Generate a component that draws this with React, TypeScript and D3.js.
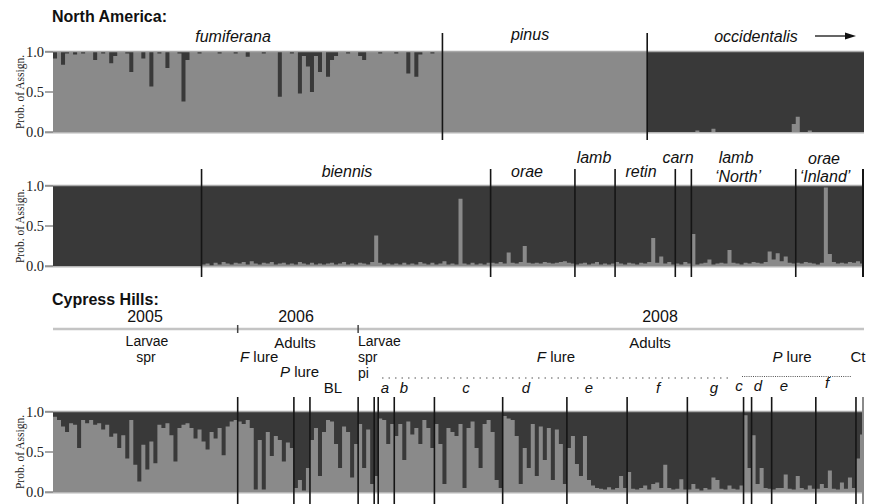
import React from "react";
import * as d3 from "d3";

// Proportion of each individual assigned to the light cluster (dark = 1 - value)

// North America, row 1
const naFumiferana = [
  0.92, 1, 0.84, 0.98, 1, 0.97, 1, 0.98, 1, 1,
  0.9, 1, 0.98, 1, 0.86, 0.95, 1, 1, 0.98, 0.75,
  1, 1, 0.92, 1, 0.57, 1, 0.98, 1, 0.8, 1,
  1, 0.98, 0.38, 0.9, 1, 1, 0.98, 1, 1, 1,
  1, 0.98, 1, 1, 1, 0.98, 1, 1, 0.94, 1,
  1, 1, 0.98, 1, 1, 1, 0.44, 1, 1, 0.98,
  1, 0.48, 0.95, 0.82, 0.5, 0.95, 0.75, 1, 0.69, 0.9,
  0.95, 1, 1, 0.98, 1, 1, 0.95, 0.9, 1, 1,
  1, 0.98, 1, 1, 1, 0.98, 1, 1, 0.73, 1,
  0.69, 0.97, 1, 1, 0.98, 1, 1,
];
const naPinus = [
  1, 1, 1, 1, 1, 1, 1, 1, 1, 1,
  1, 1, 1, 1, 1, 1, 1, 1, 1, 1,
  1, 1, 1, 1, 1, 1, 1, 1, 1, 1,
  1, 1, 1, 1, 1, 1, 1, 1, 1, 1,
  1, 1, 1, 1, 1, 1, 1, 1, 1, 1,
  1,
];
const naOccidentalis = [
  0, 0, 0, 0, 0, 0, 0, 0, 0, 0,
  0, 0, 0.02, 0, 0, 0, 0.04, 0, 0, 0,
  0, 0, 0, 0, 0, 0, 0, 0, 0, 0,
  0, 0, 0, 0, 0, 0, 0.1, 0.19, 0, 0,
  0.02, 0, 0, 0, 0, 0, 0, 0, 0, 0,
  0, 0, 0, 0,
];

// North America, row 2
const naOccidentalisCont = [
  0, 0, 0, 0, 0, 0, 0, 0, 0, 0,
  0, 0, 0, 0, 0, 0, 0, 0, 0, 0,
  0, 0, 0, 0, 0, 0, 0, 0, 0, 0,
  0, 0, 0, 0, 0, 0, 0,
];
const naBiennis = [
  0.02, 0.03, 0.01, 0.04, 0.02, 0.05, 0.03, 0.02, 0.04, 0.03,
  0.05, 0.02, 0.06, 0.03, 0.02, 0.04, 0.03, 0.05, 0.02, 0.03,
  0.04, 0.02, 0.03, 0.02, 0.05, 0.03, 0.02, 0.04, 0.02, 0.03,
  0.02, 0.03, 0.04, 0.02, 0.03, 0.05, 0.02, 0.03, 0.02, 0.04,
  0.03, 0.02, 0.05, 0.38, 0.04, 0.02, 0.03, 0.02, 0.03, 0.02,
  0.04, 0.02, 0.03, 0.02, 0.05, 0.03, 0.02, 0.04, 0.02, 0.03,
  0.06, 0.02, 0.03, 0.02, 0.84, 0.03, 0.02, 0.04, 0.02, 0.03,
  0.02, 0.04,
];
const naOrae = [0.04, 0.03, 0.05, 0.03, 0.17, 0.04, 0.03, 0.05, 0.25, 0.04, 0.03, 0.04, 0.03, 0.05, 0.04, 0.03, 0.04, 0.05, 0.06, 0.04, 0.03];
const naLamb = [0.02, 0.03, 0.04, 0.02, 0.03, 0.05, 0.02, 0.03, 0.02, 0.03];
const naRetin = [0.05, 0.03, 0.02, 0.04, 0.03, 0.02, 0.04, 0.03, 0.05, 0.35, 0.04, 0.12, 0.03, 0.05, 0.02];
const naCarn = [0.03, 0.02, 0.05, 0.03];
const naLambNorth = [0.4, 0.02, 0.03, 0.04, 0.08, 0.02, 0.03, 0.04, 0.03, 0.2, 0.04, 0.03, 0.02, 0.04, 0.03, 0.05, 0.04, 0.03, 0.05, 0.18, 0.08, 0.16, 0.06, 0.12, 0.04, 0.03];
const naOraeInland = [0.04, 0.03, 0.05, 0.04, 0.03, 0.02, 0.04, 0.98, 0.15, 0.05, 0.03, 0.04, 0.03, 0.05, 0.04, 0.06, 0.03];

// Cypress Hills
const ch05Larvae = [
  0.94, 0.9, 0.82, 0.75, 0.86, 0.84, 0.55, 0.9, 0.86, 0.9,
  0.84, 0.86, 0.78, 0.84, 0.69, 0.73, 0.55, 0.71, 0.42, 0.9,
  0.34, 0.13, 0.59, 0.28, 0.63, 0.36, 0.84, 0.8, 0.86, 0.71,
  0.38, 0.8, 0.84, 0.86, 0.8, 0.67, 0.78, 0.63, 0.53, 0.75,
  0.67, 0.8, 0.46, 0.82, 0.88, 0.9,
];
const ch06FLure = [0.88, 0.85, 0.9, 0.8, 0.03, 0.65, 0.03, 0.75, 0.45, 0.7, 0.65, 0.38, 0.62, 0.55];
const ch06PLure = [0.05, 0.15, 0.02, 0.3];
const ch06BL = [0.65, 0.8, 0.2, 0.75, 0.9, 0.88, 0.6, 0.3, 0.82, 0.75, 0.18, 0.6];
const ch08LarvaeSpr = [0.85, 0.3, 0.78, 0.1];
const ch08LarvaePi = [0.2];
const ch08Fa = [0.92, 0.9, 0.6, 0.85];
const ch08Fb = [0.7, 0.85, 0.4, 0.88, 0.72, 0.8, 0.6, 0.9, 0.8, 0.55];
const ch08Fc = [0.85, 0.6, 0.1, 0.8, 0.75, 0.7, 0.85, 0.05, 0.8, 0.88, 0.55, 0.3, 0.85, 0.9, 0.75, 0.15, 0.05];
const ch08Fd = [0.95, 0.92, 0.9, 0.7, 0.1, 0.55, 0.3, 0.85, 0.2, 0.82, 0.4, 0.8, 0.15, 0.78, 0.6, 0.1];
const ch08Fe = [0.55, 0.7, 0.35, 0.2, 0.7, 0.15, 0.08, 0.05, 0.04, 0.03, 0.06, 0.03, 0.05, 0.2, 0.05];
const ch08Ff = [0.25, 0.04, 0.03, 0.05, 0.08, 0.03, 0.1, 0.12, 0.05, 0.34, 0.05, 0.03, 0.04, 0.16, 0.03];
const ch08Fg = [0.03, 0.1, 0.04, 0.02, 0.05, 0.03, 0.18, 0.15, 0.04, 0.03, 0.08, 0.04, 0.03, 0.08];
const ch08Pc = [0.96, 0.3];
const ch08Pd = [0.71, 0.1, 0.3, 0.05, 0.04];
const ch08Pe = [0.03, 0.05, 0.05, 0.22, 0.04, 0.03, 0.2, 0.05, 0.03, 0.08, 0.04];
const ch08Pf = [0.04, 0.1, 0.05, 0.27, 0.04, 0.03, 0.12, 0.04, 0.18, 0.05];
const ch08Ct = [0.42, 0.72];

const tickValues = [0, 0.5, 1];
const tickLabels = ["0.0", "0.5", "1.0"];

// layout
const W = 869;
const H = 504;
const X0 = 53;
const X1 = 864;
const LIGHT = "#8a8a8a";
const DARK = "#393939";
const SANS = "'Liberation Sans', Arial, Helvetica, sans-serif";
const SERIF = "'Liberation Serif', 'Times New Roman', serif";

type Lbl = { t: string; x: number; y: number };

const naTopLabels: Lbl[] = [
  { t: "fumiferana", x: 233, y: 41.5 },
  { t: "pinus", x: 530, y: 39.5 },
  { t: "occidentalis", x: 756, y: 41.5 },
];
const naBottomLabels: Lbl[] = [
  { t: "biennis", x: 347, y: 176.5 },
  { t: "orae", x: 527, y: 176.5 },
  { t: "lamb", x: 594, y: 163 },
  { t: "retin", x: 641, y: 176.5 },
  { t: "carn", x: 678, y: 163 },
  { t: "lamb", x: 736, y: 163 },
  { t: "\u2018North\u2019", x: 738, y: 181.5 },
  { t: "orae", x: 824, y: 163.5 },
  { t: "\u2018Inland\u2019", x: 825, y: 181.5 },
];
const chLetters: Lbl[] = [
  { t: "a", x: 385, y: 392.5 },
  { t: "b", x: 404, y: 392.5 },
  { t: "c", x: 466, y: 392.5 },
  { t: "d", x: 526, y: 392.5 },
  { t: "e", x: 589, y: 392.5 },
  { t: "f", x: 658, y: 392.5 },
  { t: "g", x: 714, y: 392.5 },
  { t: "c", x: 739, y: 390.5 },
  { t: "d", x: 758, y: 390.5 },
  { t: "e", x: 784, y: 390.5 },
  { t: "f", x: 827, y: 388 },
];

type PanelProps = {
  groups: number[][];
  top: number;
  bottom: number;
  lineTop: number;
  lineBottom: number;
  edge?: string;
};

function StructurePanel({ groups, top, bottom, lineTop, lineBottom, edge }: PanelProps) {
  const values = groups.flat();
  const n = values.length;
  const x = d3.scaleLinear().domain([0, n]).range([X0, X1]);
  const y = d3.scaleLinear().domain([0, 1]).range([bottom, top]);
  const pts: [number, number][] = values.map((q, i) => [i, q] as [number, number]);
  pts.push([n, values[n - 1]]);
  const area = d3
    .area<[number, number]>()
    .x((d) => x(d[0]))
    .y0(bottom)
    .y1((d) => y(d[1]))
    .curve(d3.curveStepAfter);
  const cuts = (Array.from(d3.cumsum(groups.map((g) => g.length))) as number[]).slice(0, -1);
  const mid = (top + bottom) / 2;

  return (
    <g>
      <rect x={X0} y={top} width={X1 - X0} height={bottom - top} fill={DARK} />
      <path d={area(pts) || ""} fill={LIGHT} />
      <line x1={45} x2={X1} y1={top - 0.5} y2={top - 0.5} stroke="#a8a8a8" strokeWidth={1.5} />
      <line x1={45} x2={X1} y1={bottom + 0.7} y2={bottom + 0.7} stroke="#b5b5b5" strokeWidth={1.5} />
      {tickValues.map((t, i) => (
        <g key={t}>
          <line x1={45} x2={X0} y1={y(t)} y2={y(t)} stroke="#8a8a8a" strokeWidth={1.5} />
          <text x={44} y={y(t)} dy="0.35em" textAnchor="end" fontFamily={SERIF} fontSize={14.5} fill="#222">
            {tickLabels[i]}
          </text>
        </g>
      ))}
      <text
        transform={`translate(24,${mid}) rotate(-90)`}
        textAnchor="middle"
        fontFamily={SERIF}
        fontSize={11.5}
        fill="#222"
      >
        Prob. of Assign.
      </text>
      {cuts.map((c, i) => (
        <line key={i} x1={x(c)} x2={x(c)} y1={lineTop} y2={lineBottom} stroke="#151515" strokeWidth={1.6} />
      ))}
      {edge && <line x1={X1 - 1} x2={X1 - 1} y1={lineTop} y2={lineBottom} stroke={edge} strokeWidth={2} />}
    </g>
  );
}

export default function App() {
  const groupsNA1 = [naFumiferana, naPinus, naOccidentalis];
  const groupsNA2 = [naOccidentalisCont, naBiennis, naOrae, naLamb, naRetin, naCarn, naLambNorth, naOraeInland];
  const groupsCH = [
    ch05Larvae, ch06FLure, ch06PLure, ch06BL, ch08LarvaeSpr, ch08LarvaePi, ch08Fa, ch08Fb, ch08Fc,
    ch08Fd, ch08Fe, ch08Ff, ch08Fg, ch08Pc, ch08Pd, ch08Pe, ch08Pf, ch08Ct,
  ];
  const chN = groupsCH.flat().length;
  const chX = d3.scaleLinear().domain([0, chN]).range([X0, X1]);
  const chCum = Array.from(d3.cumsum(groupsCH.map((g) => g.length))) as number[];
  const yearTicks = [chCum[0], chCum[3]];

  const txt = { fontFamily: SANS, fontSize: 16, fill: "#111" } as const;
  const small = { fontFamily: SANS, fontSize: 15, fill: "#111" } as const;
  const stack = { fontFamily: SANS, fontSize: 14, fill: "#111" } as const;

  return (
    <svg width={W} height={H} style={{ position: "absolute", left: 0, top: 0, background: "#fff" }}>
      <rect width={W} height={H} fill="#fff" />

      {/* North America */}
      <text x={52} y={21.5} fontFamily={SANS} fontSize={16} fontWeight="bold" fill="#111">
        North America:
      </text>
      <StructurePanel groups={groupsNA1} top={52} bottom={132} lineTop={33} lineBottom={140} />
      {naTopLabels.map((l, i) => (
        <text key={i} x={l.x} y={l.y} textAnchor="middle" fontStyle="italic" {...txt}>
          {l.t}
        </text>
      ))}
      <line x1={815} x2={846} y1={36} y2={36} stroke="#111" strokeWidth={1.3} />
      <path d="M845,32.5 L856,36 L845,39.5 Z" fill="#111" />

      <StructurePanel
        groups={groupsNA2}
        top={186}
        bottom={266}
        lineTop={169}
        lineBottom={277}
        edge="#151515"
      />
      {naBottomLabels.map((l, i) => (
        <text key={i} x={l.x} y={l.y} textAnchor="middle" fontStyle="italic" {...txt}>
          {l.t}
        </text>
      ))}

      {/* Cypress Hills */}
      <text x={52} y={304.5} fontFamily={SANS} fontSize={16} fontWeight="bold" fill="#111">
        Cypress Hills:
      </text>
      <line x1={X0} x2={X1} y1={329} y2={329} stroke="#c4c4c4" strokeWidth={2.5} />
      {yearTicks.map((c, i) => (
        <line key={i} x1={chX(c)} x2={chX(c)} y1={325} y2={333} stroke="#444" strokeWidth={1.5} />
      ))}
      <text x={145} y={321.5} textAnchor="middle" {...txt}>2005</text>
      <text x={296} y={321.5} textAnchor="middle" {...txt}>2006</text>
      <text x={660} y={321.5} textAnchor="middle" {...txt}>2008</text>

      <text x={147} y={346} textAnchor="middle" {...stack}>Larvae</text>
      <text x={146} y={362} textAnchor="middle" {...stack}>spr</text>

      <text x={295} y={347.5} textAnchor="middle" {...small}>Adults</text>
      <text x={240} y={362} {...small}>
        <tspan fontStyle="italic">F</tspan> lure
      </text>
      <text x={280} y={377} {...small}>
        <tspan fontStyle="italic">P</tspan> lure
      </text>
      <text x={333} y={392.5} textAnchor="middle" {...small}>BL</text>

      <text x={358} y={346} {...stack}>Larvae</text>
      <text x={358} y={362} {...stack}>spr</text>
      <text x={358} y={378} {...stack}>pi</text>

      <text x={650} y={347.5} textAnchor="middle" {...small}>Adults</text>
      <text x={556} y={362} textAnchor="middle" {...small}>
        <tspan fontStyle="italic">F</tspan> lure
      </text>
      <text x={792} y={362} textAnchor="middle" {...small}>
        <tspan fontStyle="italic">P</tspan> lure
      </text>
      <text x={858} y={362} textAnchor="middle" {...small}>Ct</text>

      <line x1={382} x2={732} y1={378} y2={378} stroke="#555" strokeWidth={1.2} strokeDasharray="1.5 5" />
      <line x1={742} x2={852} y1={376.5} y2={376.5} stroke="#555" strokeWidth={1} strokeDasharray="1 1.2" />
      {chLetters.map((l, i) => (
        <text key={i} x={l.x} y={l.y} textAnchor="middle" fontStyle="italic" {...small}>
          {l.t}
        </text>
      ))}

      <StructurePanel
        groups={groupsCH}
        top={412}
        bottom={492}
        lineTop={397}
        lineBottom={504}
        edge="#8a8a8a"
      />
    </svg>
  );
}
